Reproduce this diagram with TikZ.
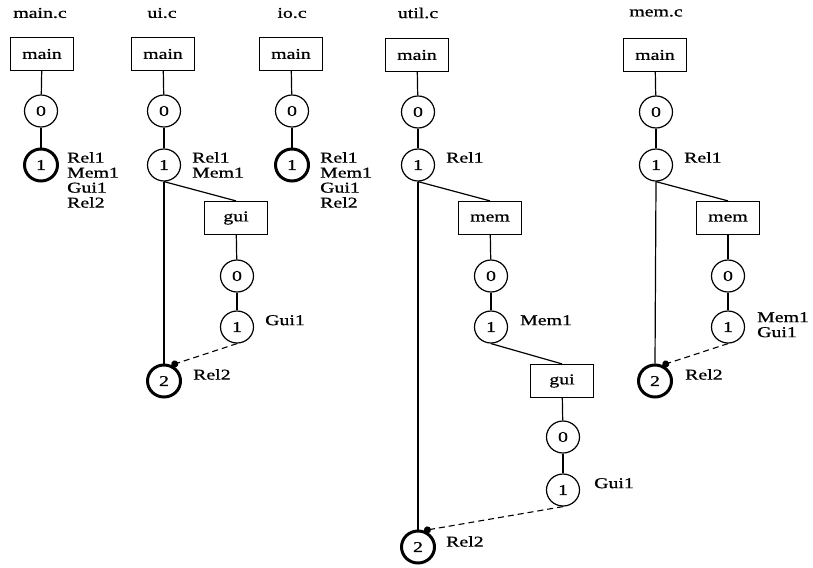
\documentclass[tikz,border=0pt]{standalone}
\usepackage{fontspec}
\setmainfont{Liberation Serif}[FakeStretch=1.32,FakeBold=0.8]
\usetikzlibrary{arrows.meta,shapes.geometric}
\begin{document}
\begin{tikzpicture}[x=1pt,y=-1pt,
  every node/.style={font=\fontsize{15}{15}\selectfont},
  fn/.style={draw, line width=1.2pt, minimum width=63pt, minimum height=33pt, inner sep=0pt},
  st/.style={draw, ellipse, line width=1.2pt, minimum width=33pt, minimum height=32pt, inner sep=0pt},
  fin/.style={st, line width=3pt},
  lbl/.style={anchor=north west, align=left, inner sep=0pt},
  edge/.style={line width=1.2pt},
  ret/.style={line width=1.1pt, dash pattern=on 6pt off 4pt, -{Circle[length=7pt]}}]
\useasboundingbox (0,0) rectangle (813,567);

% file titles
\node (tmain) at (40,13) {main.c};
\node (tui)   at (162,13) {ui.c};
\node (tio)   at (292,13) {io.c};
\node (tutil) at (418,13) {util.c};
\node (tmem)  at (656,13) {mem.c};

% main.c
\node[fn]  (am)  at (42,54)  {main};
\node[st]  (a0)  at (41,111) {0};
\node[fin] (a1)  at (41,165) {1};
\draw[edge] (am) -- (a0);
\draw[edge] (a0) -- (a1);
\node[lbl] (la1) at (67,152) {Rel1\\Mem1\\Gui1\\Rel2};

% ui.c
\node[fn]  (bm)  at (163,54)  {main};
\node[st]  (b0)  at (164,111) {0};
\node[st]  (b1)  at (164,165) {1};
\node[fn]  (bg)  at (236,218) {gui};
\node[st]  (bg0) at (237,276) {0};
\node[st]  (bg1) at (237,327) {1};
\node[fin] (b2)  at (164,381) {2};
\draw[edge] (bm) -- (b0);
\draw[edge] (b0) -- (b1);
\draw[edge] (b1.south) -- (bg.north);
\draw[edge] (bg) -- (bg0);
\draw[edge] (bg0) -- (bg1);
\draw[edge] (b1.south) -- (b2.north);
\draw[ret] (bg1.south) -- (b2.65);
\node[lbl] (lb1)  at (192,152) {Rel1\\Mem1};
\node[lbl] (lbg1) at (265,315) {Gui1};
\node[lbl] (lb2)  at (193,369) {Rel2};

% io.c
\node[fn]  (cm)  at (291,54)  {main};
\node[st]  (c0)  at (292,111) {0};
\node[fin] (c1)  at (292,165) {1};
\draw[edge] (cm) -- (c0);
\draw[edge] (c0) -- (c1);
\node[lbl] (lc1) at (320,152) {Rel1\\Mem1\\Gui1\\Rel2};

% util.c
\node[fn]  (dm)  at (417,55)  {main};
\node[st]  (d0)  at (418,112) {0};
\node[st]  (d1)  at (418,165) {1};
\node[fn]  (dmm) at (490,218) {mem};
\node[st]  (dm0) at (491,276) {0};
\node[st]  (dm1) at (491,327) {1};
\node[fn]  (dg)  at (562,381) {gui};
\node[st]  (dg0) at (563,437) {0};
\node[st]  (dg1) at (563,490) {1};
\node[fin] (d2)  at (418,547) {2};
\draw[edge] (dm) -- (d0);
\draw[edge] (d0) -- (d1);
\draw[edge] (d1.south) -- (dmm.north);
\draw[edge] (dmm) -- (dm0);
\draw[edge] (dm0) -- (dm1);
\draw[edge] (dm1.south) -- (dg.north);
\draw[edge] (dg) -- (dg0);
\draw[edge] (dg0) -- (dg1);
\draw[edge] (d1.south) -- (d2.north);
\draw[ret] (dg1.south) -- (d2.70);
\node[lbl] (ld1)  at (446,152) {Rel1};
\node[lbl] (ldm1) at (520,315) {Mem1};
\node[lbl] (ldg1) at (594,478) {Gui1};
\node[lbl] (ld2)  at (446,536) {Rel2};

% mem.c
\node[fn]  (em)  at (655,55)  {main};
\node[st]  (e0)  at (656,112) {0};
\node[st]  (e1)  at (656,165) {1};
\node[fn]  (emm) at (728,218) {mem};
\node[st]  (em0) at (728,276) {0};
\node[st]  (em1) at (728,327) {1};
\node[fin] (e2)  at (655,381) {2};
\draw[edge] (em) -- (e0);
\draw[edge] (e0) -- (e1);
\draw[edge] (e1.south) -- (emm.north);
\draw[edge] (emm) -- (em0);
\draw[edge] (em0) -- (em1);
\draw[edge] (e1.south) -- (e2.north);
\draw[ret] (em1.south) -- (e2.65);
\node[lbl] (le1)  at (684,152) {Rel1};
\node[lbl] (lem1) at (757,312) {Mem1\\Gui1};
\node[lbl] (le2)  at (685,369) {Rel2};
\end{tikzpicture}
\end{document}
